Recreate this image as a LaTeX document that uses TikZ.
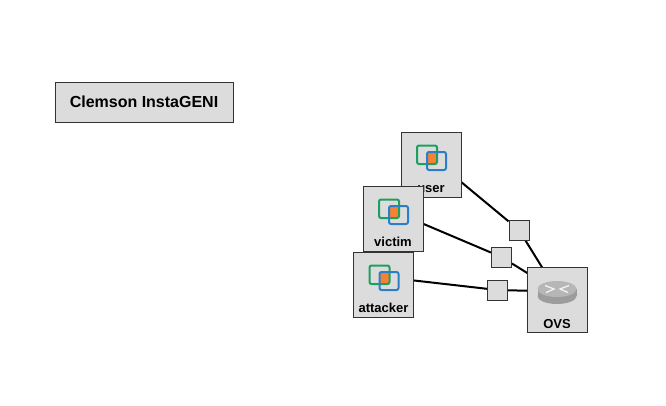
\documentclass[tikz,border=0pt]{standalone}
\usepackage{fontspec}
\setmainfont{Liberation Sans}
\usepackage{tikz}
\usetikzlibrary{positioning}
\usetikzlibrary{backgrounds}
\definecolor{boxgray}{HTML}{DCDCDC}
\definecolor{vmgreen}{HTML}{1F9E5F}
\definecolor{vmblue}{HTML}{2B7FC6}
\definecolor{vmorange}{HTML}{F58233}
\definecolor{routergray}{HTML}{9C9C9C}
\definecolor{routertop}{HTML}{B6B6B6}
\tikzset{
	sitebox/.style={draw=black!80, fill=boxgray, line width=1pt, minimum width=178pt, minimum height=40pt, inner sep=0pt, font=\bfseries\fontsize{16}{18}\selectfont},
	hostbox/.style={draw=black!80, fill=boxgray, line width=1pt, minimum width=60pt, minimum height=65pt, inner sep=0pt},
	hostlabel/.style={inner sep=0pt, anchor=base, font=\bfseries\fontsize{13}{15}\selectfont},
	linkbox/.style={draw=black!80, fill=boxgray, line width=1pt, minimum width=20pt, minimum height=20pt, inner sep=0pt},
	wire/.style={black, line width=2pt},
	vmglyph/.pic={
		\fill[vmorange] (-4,-5) rectangle (6,7);
		\draw[vmgreen, line width=2pt, rounded corners=2pt] (-14,-11.5) rectangle (6,7);
		\draw[vmblue, line width=2pt, rounded corners=2pt] (-4,-5) rectangle (15,13);
		\coordinate (-port) at (0,0);
	},
	routerglyph/.pic={
		\fill[routergray] (0,4.5) ellipse[x radius=19.5, y radius=8];
		\fill[routergray] (-19.5,-2.5) rectangle (19.5,4.5);
		\fill[routertop] (0,-2.5) ellipse[x radius=19.5, y radius=8];
		\draw[white!90!gray, line width=1.3pt] (-12,-6) -- (-3,-2.5) -- (-11,1) (12,-6) -- (3,-2.5) -- (11,1);
		\coordinate (-port) at (0,0);
	}
}
\begin{document}
\begin{tikzpicture}[x=1pt, y=-1pt]
	\useasboundingbox (0,0) rectangle (666,405);
	\node[sitebox] (site) at (144,102) {Clemson InstaGENI};
	% hosts
	\node[hostbox] (user) at (431,164.5) {};
	\pic (userglyph) at ([yshift=7.5pt]user.center) {vmglyph};
	\node[hostlabel] (userlabel) at ([yshift=5pt]user.south) {user};
	\node[hostbox] (victim) at (393,218.5) {};
	\pic (victimglyph) at ([yshift=7.5pt]victim.center) {vmglyph};
	\node[hostlabel] (victimlabel) at ([yshift=5pt]victim.south) {victim};
	\node[hostbox] (attacker) at (383.5,284.5) {};
	\pic (attackerglyph) at ([yshift=7.5pt]attacker.center) {vmglyph};
	\node[hostlabel] (attackerlabel) at ([yshift=5pt]attacker.south) {attacker};
	\node[hostbox] (ovs) at (557,300) {};
	\pic (ovsglyph) at ([yshift=8.5pt]ovs.center) {routerglyph};
	\node[hostlabel] (ovslabel) at ([yshift=5pt]ovs.south) {OVS};
	% links
	\node[linkbox] (linkuser) at (519,230) {};
	\node[linkbox] (linkvictim) at (501.5,257) {};
	\node[linkbox] (linkattacker) at (497.5,290) {};
	\begin{scope}[on background layer]
		\draw[wire] (userglyph-port)--(linkuser)--(ovsglyph-port);
		\draw[wire] (victimglyph-port)--(linkvictim)--(ovsglyph-port);
		\draw[wire] (attackerglyph-port)--(linkattacker)--(ovsglyph-port);
	\end{scope}
\end{tikzpicture}
\end{document}
